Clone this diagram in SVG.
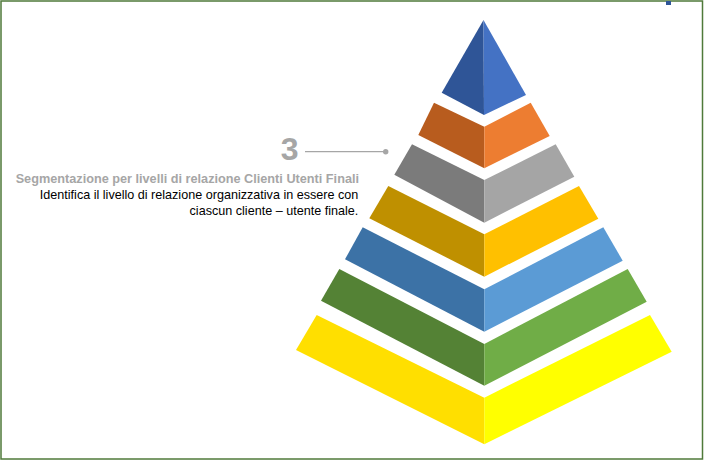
<svg xmlns="http://www.w3.org/2000/svg" width="704" height="461" viewBox="0 0 704 461">
<style>
.t{font-family:"Liberation Sans",Arial,sans-serif;text-anchor:end}
.h{font-weight:bold;fill:#a6a6a6;font-size:12.7px}
.b{fill:#000;font-size:12.6px}
</style>
<rect x="1" y="1" width="701.5" height="458" fill="#fff" stroke="#4f7a3a" stroke-width="1.5"/>
<rect x="666" y="1" width="5" height="4" fill="#2f5597"/>
<g id="level1">
<polygon points="483.5,20 441.7,92.7 484,115" fill="#2f5597"/>
<polygon points="483.5,20 526,95 484,115" fill="#4472c4"/>
</g>
<g id="level2">
<polygon points="434,102.7 418.3,135 484.3,168.3 484.3,126.7" fill="#b85c1e"/>
<polygon points="530.7,102.7 549.7,136 484.3,168.3 484.3,126.7" fill="#ed7d31"/>
</g>
<g id="level3">
<polygon points="412,144.3 394.3,174.7 484.3,222.7 484.3,180" fill="#7b7b7b"/>
<polygon points="555.7,144.3 574.3,176.7 484.3,222.7 484.3,180" fill="#a5a5a5"/>
</g>
<g id="level4">
<polygon points="388.3,186 369.3,218.3 484.3,276.7 484.3,234.3" fill="#bf9000"/>
<polygon points="579,186 598.3,218.7 484.3,276.7 484.3,234.3" fill="#ffc000"/>
</g>
<g id="level5">
<polygon points="362.7,227.3 345,259.3 484.3,331.7 484.3,289.3" fill="#3c72a6"/>
<polygon points="603.3,227.3 622.7,260.7 484.3,331.7 484.3,289.3" fill="#5b9bd5"/>
</g>
<g id="level6">
<polygon points="339.3,269 321,300.7 484.3,385.7 484.3,344" fill="#548235"/>
<polygon points="627.7,269 646.7,301.7 484.3,385.7 484.3,344" fill="#70ad47"/>
</g>
<g id="level7">
<polygon points="316.7,315 296,350 484.3,444.3 484.3,397.7" fill="#ffdf00"/>
<polygon points="650,315 671.7,351.7 484.3,444.3 484.3,397.7" fill="#ffff00"/>
</g>
<g id="connectors">
<line x1="305" y1="151.7" x2="385" y2="151.7" stroke="#a6a6a6" stroke-width="1.2"/>
<circle cx="385.7" cy="151.7" r="2.7" fill="#a6a6a6"/>
</g>
<g id="label3">
<text class="t" x="298.5" y="160" style="font-size:32px;font-weight:bold;fill:#a6a6a6">3</text>
<text class="t h" x="359" y="182.5">Segmentazione per livelli di relazione Clienti Utenti Finali</text>
<text class="t b" x="358.3" y="199">Identifica il livello di relazione organizzativa in essere con</text>
<text class="t b" x="358.3" y="215.3">ciascun cliente – utente finale.</text>
</g>
</svg>
